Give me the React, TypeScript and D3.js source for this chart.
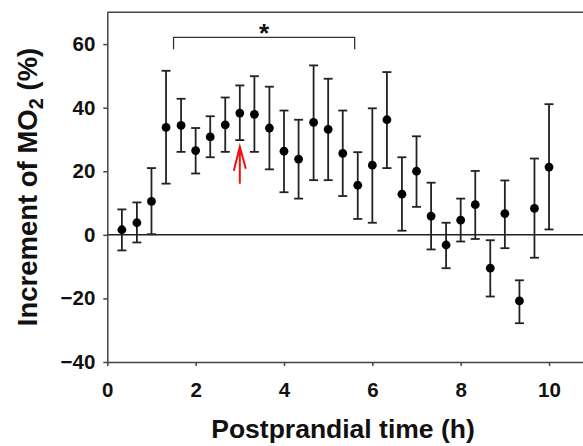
import React, { useEffect, useRef } from 'react';
import * as d3 from 'd3';

// time points (h) and increment of MO2 (%), with upper / lower ends of error bars
const times = [0.33, 0.67, 1, 1.33, 1.67, 2, 2.33, 2.67, 3, 3.33, 3.67, 4, 4.33, 4.67, 5,
  5.33, 5.67, 6, 6.33, 6.67, 7, 7.33, 7.67, 8, 8.33, 8.67, 9, 9.33, 9.67, 10];
const means = [1.6, 3.8, 10.5, 33.8, 34.4, 26.5, 30.8, 34.6, 38.3, 37.9, 33.6, 26.3, 23.8, 35.4, 33.2,
  25.6, 15.6, 21.9, 36.2, 12.8, 20.0, 5.9, -3.2, 4.6, 9.5, -10.5, 6.7, -20.8, 8.3, 21.3];
const upper = [8.0, 10.2, 21.0, 51.6, 42.8, 33.6, 37.3, 43.2, 47.0, 49.9, 46.6, 39.1, 36.2, 53.3, 49.1,
  39.1, 26.0, 39.8, 51.2, 24.4, 31.0, 16.4, 3.8, 11.4, 20.1, -1.7, 17.1, -14.3, 24.0, 41.1];
const lower = [-4.9, -2.4, 0.2, 16.1, 26.1, 19.3, 24.4, 26.1, 29.8, 26.1, 20.6, 13.4, 11.4, 17.2, 17.2,
  12.2, 5.0, 3.8, 21.0, 1.3, 8.8, -4.6, -10.5, -2.1, -1.3, -19.4, -4.2, -27.8, -7.2, 1.7];

const xTicks = [0, 2, 4, 6, 8, 10];
const yTicks = [-40, -20, 0, 20, 40, 60];

// significance bracket and marker
const bracket = { from: 1.5, to: 5.6, top: 62.1, foot: 58.4 };
const arrowAt = { x: 3.0, tip: 27.7, tail: 16.1 };

const App = () => {
  const chartRef = useRef(null);

  useEffect(() => {
    const width = 583;
    const height = 446;
    const font = "'Liberation Sans', Arial, sans-serif";
    const ink = '#222';

    const x = d3.scaleLinear().domain([0, 11]).range([107.3, 593.2]);
    const y = d3.scaleLinear().domain([-40, 70]).range([362, 12.3]);

    const svg = d3.select(chartRef.current)
      .attr('width', width)
      .attr('height', height);
    svg.selectAll('*').remove();

    const data = times.map((t, i) => ({ t, m: means[i], hi: upper[i], lo: lower[i] }));

    // frame
    svg.append('line')
      .attr('x1', x(0)).attr('x2', x(11))
      .attr('y1', y(70)).attr('y2', y(70))
      .attr('stroke', '#444').attr('stroke-width', 1.5);

    // zero reference line
    svg.append('line')
      .attr('x1', x(0)).attr('x2', x(11))
      .attr('y1', y(0)).attr('y2', y(0))
      .attr('stroke', ink).attr('stroke-width', 1.5);

    // axes
    const xAxis = svg.append('g')
      .attr('transform', `translate(0,${y(-40)})`)
      .call(d3.axisBottom(x).tickValues(xTicks).tickSizeInner(4).tickSizeOuter(0).tickPadding(16));
    const yAxis = svg.append('g')
      .attr('transform', `translate(${x(0)},0)`)
      .call(d3.axisLeft(y).tickValues(yTicks).tickSizeInner(4).tickSizeOuter(0).tickPadding(8)
        .tickFormat(d => d3.format('')(d).replace('-', '\u2212')));

    [xAxis, yAxis].forEach(g => {
      g.select('.domain').attr('stroke', '#444').attr('stroke-width', 1.5);
      g.selectAll('.tick line').attr('stroke', '#444').attr('stroke-width', 1.5);
      g.selectAll('.tick text')
        .attr('fill', '#111')
        .attr('font-family', font)
        .attr('font-weight', 'bold')
        .attr('font-size', 20.5);
    });

    // error bars
    const capW = 4.5;
    const bars = svg.append('g')
      .attr('stroke', ink)
      .attr('stroke-width', 1.8);
    bars.selectAll('line.v')
      .data(data)
      .join('line')
      .attr('class', 'v')
      .attr('x1', d => x(d.t)).attr('x2', d => x(d.t))
      .attr('y1', d => y(d.hi)).attr('y2', d => y(d.lo));
    bars.selectAll('line.hi')
      .data(data)
      .join('line')
      .attr('class', 'hi')
      .attr('x1', d => x(d.t) - capW).attr('x2', d => x(d.t) + capW)
      .attr('y1', d => y(d.hi)).attr('y2', d => y(d.hi));
    bars.selectAll('line.lo')
      .data(data)
      .join('line')
      .attr('class', 'lo')
      .attr('x1', d => x(d.t) - capW).attr('x2', d => x(d.t) + capW)
      .attr('y1', d => y(d.lo)).attr('y2', d => y(d.lo));

    // means
    svg.append('g')
      .selectAll('circle')
      .data(data)
      .join('circle')
      .attr('cx', d => x(d.t))
      .attr('cy', d => y(d.m))
      .attr('r', 4.4)
      .attr('fill', '#000');

    // bracket with asterisk
    svg.append('path')
      .attr('d', `M${x(bracket.from)},${y(bracket.foot)}V${y(bracket.top)}H${x(bracket.to)}V${y(bracket.foot)}`)
      .attr('fill', 'none')
      .attr('stroke', '#333')
      .attr('stroke-width', 1.3);
    svg.append('text')
      .attr('x', x((bracket.from + bracket.to) / 2))
      .attr('y', 42)
      .attr('text-anchor', 'middle')
      .attr('font-family', font)
      .attr('font-weight', 'bold')
      .attr('font-size', 26)
      .attr('fill', '#111')
      .text('*');

    // red arrow
    const ax = x(arrowAt.x);
    const tipY = y(arrowAt.tip);
    svg.append('path')
      .attr('d', `M${ax},${y(arrowAt.tail)}V${tipY}M${ax - 6},${tipY + 24}L${ax},${tipY}L${ax + 6},${tipY + 22}`)
      .attr('fill', 'none')
      .attr('stroke', '#f01010')
      .attr('stroke-width', 2);

    // axis titles
    svg.append('text')
      .attr('x', 343)
      .attr('y', 438)
      .attr('text-anchor', 'middle')
      .attr('font-family', font)
      .attr('font-weight', 'bold')
      .attr('font-size', 26.5)
      .attr('fill', '#111')
      .text('Postprandial time (h)');

    const yt = svg.append('text')
      .attr('transform', 'translate(37,187) rotate(-90)')
      .attr('text-anchor', 'middle')
      .attr('font-family', font)
      .attr('font-weight', 'bold')
      .attr('font-size', 27.5)
      .attr('fill', '#111');
    yt.append('tspan').text('Increment of MO');
    yt.append('tspan').attr('font-size', 20).attr('dy', 6).text('2');
    yt.append('tspan').attr('dy', -6).text(' (%)');
  }, []);

  return (
    <div>
      <svg ref={chartRef} style={{ position: 'absolute', left: 0, top: 0, background: '#fff' }}></svg>
    </div>
  );
};

export default App;
